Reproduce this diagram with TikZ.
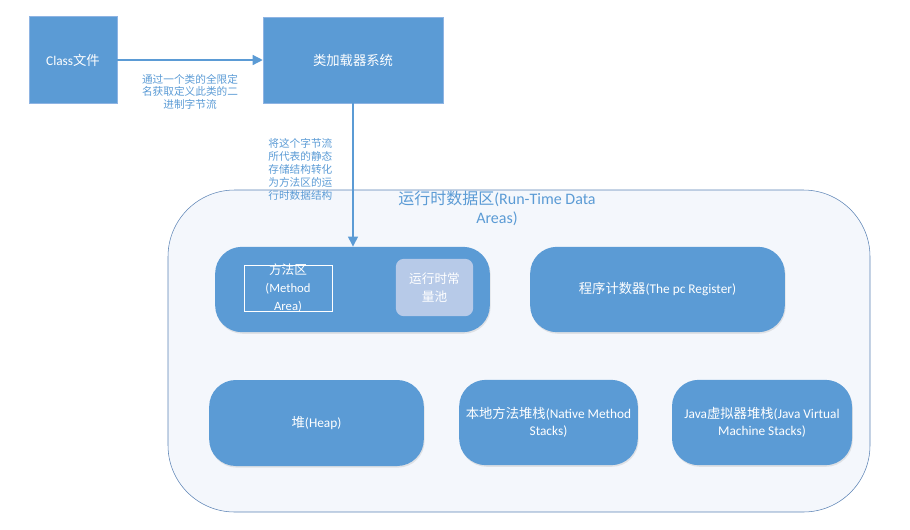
\documentclass[tikz,border=0pt]{standalone}
\usepackage{fontspec}
\setmainfont{Carlito}
\newfontfamily\cjk{Noto Sans CJK SC}
\newcommand{\zhtxt}[1]{{\cjk #1}}
\usetikzlibrary{arrows.meta,shadows}
\definecolor{boxblue}{HTML}{5B9BD5}
\definecolor{boxline}{HTML}{8EB4E3}
\definecolor{poolblue}{HTML}{B7CAE8}
\definecolor{rtline}{HTML}{5A82B4}
\definecolor{rtfill}{HTML}{F4F7FC}
\begin{document}
\begin{tikzpicture}[x=0.75pt, y=-0.75pt, every node/.style={font=\fontsize{10}{12}\selectfont, align=center},
  >={Triangle[length=7.5pt,width=7.5pt]},
  blk/.style={draw=boxline, fill=boxblue, text=white, inner sep=0pt},
  area/.style={fill=boxblue, text=white, rounded corners=20pt, inner sep=0pt, font=\fontsize{10}{13}\selectfont,
    drop shadow={shadow xshift=0.6pt, shadow yshift=-1.2pt, opacity=0.18}},
  note/.style={text=boxblue, font=\fontsize{8}{9.7}\selectfont, inner sep=0pt},
  flow/.style={->, draw=boxblue, line width=0.9pt}]
\useasboundingbox (0,0) rectangle (910,529);
% run-time data areas
\node[draw=rtline, fill=rtfill, rounded corners=50pt, minimum width=526.5pt, minimum height=241.5pt] (rtda) at (519,351) {};
\node[text=boxblue, font=\fontsize{12}{14.3}\selectfont] (title) at (497,208.5) {\zhtxt{运行时数据区}(Run-Time Data\\Areas)};
% loading
\node[blk, minimum width=66pt, minimum height=65pt] (cls) at (73,60) {Class\zhtxt{文件}};
\node[blk, minimum width=135pt, minimum height=64.5pt] (loader) at (353,60) {\zhtxt{类加载器系统}};
% areas
\node[area, minimum width=206pt, minimum height=64pt] (method) at (352.5,289.5) {};
\node[draw=white, minimum width=66pt, minimum height=34.5pt, inner sep=0pt] (marea) at (288,288) {};
\node[text=white, font=\fontsize{9.5}{13.5}\selectfont] at (marea) {\zhtxt{方法区}\\(Method\\Area)};
\node[fill=poolblue, rounded corners=6pt, minimum width=58pt, minimum height=43pt, text=white,
  font=\fontsize{9.5}{14}\selectfont] (pool) at (434.5,287.5) {\zhtxt{运行时常}\\\zhtxt{量池}};
\node[area, minimum width=191pt, minimum height=64pt] (pc) at (657.5,289.5) {\zhtxt{程序计数器}(The pc Register)};
\node[area, minimum width=161pt, minimum height=64.5pt] (heap) at (316.5,423) {\zhtxt{堆}(Heap)};
\node[area, minimum width=134pt, minimum height=64pt] (native) at (548.5,422.5) {\zhtxt{本地方法堆栈}(Native Method\\Stacks)};
\node[area, minimum width=135pt, minimum height=64pt] (jvms) at (762,422.5) {Java\zhtxt{虚拟器堆栈}(Java Virtual\\Machine Stacks)};
% connectors
\draw[flow] (cls) -- (loader)
  node[note, midway, below=10pt] {\zhtxt{通过一个类的全限定}\\\zhtxt{名获取定义此类的二}\\\zhtxt{进制字节流}};
\draw[flow] (loader.south) -- (loader.south |- method.north)
  node[note, pos=0.46, left=15pt] {\zhtxt{将这个字节流}\\\zhtxt{所代表的静态}\\\zhtxt{存储结构转化}\\\zhtxt{为方法区的运}\\\zhtxt{行时数据结构}};
\end{tikzpicture}
\end{document}
